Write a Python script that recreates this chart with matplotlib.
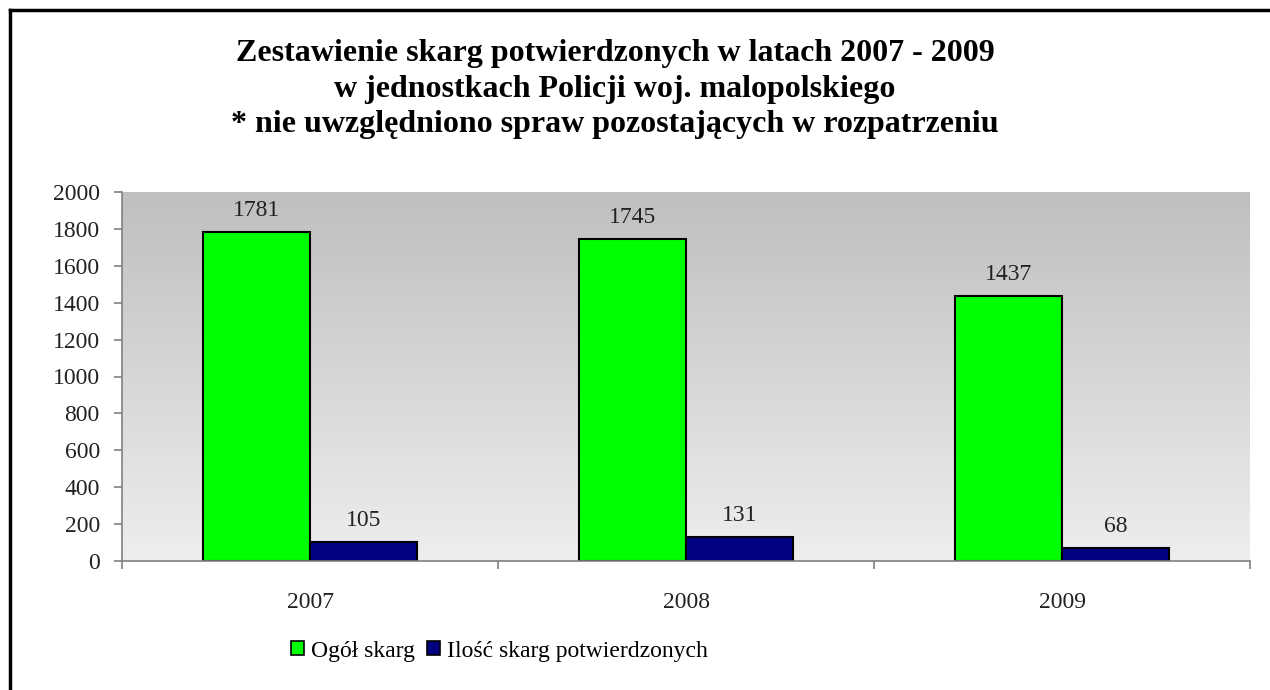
import matplotlib
matplotlib.use("Agg")
import matplotlib.pyplot as plt
import numpy as np
from matplotlib.lines import Line2D
from matplotlib.patches import Patch
from matplotlib.colors import LinearSegmentedColormap

years = ["2007", "2008", "2009"]
ogol = [1781, 1745, 1437]
potw = [105, 131, 68]
series_names = ["Ogół skarg", "Ilość skarg potwierdzonych"]
title = ("Zestawienie skarg potwierdzonych w latach 2007 - 2009\n"
         "w jednostkach Policji woj. malopolskiego\n"
         "* nie uwzględniono spraw pozostających w rozpatrzeniu")

plt.rcParams['font.family'] = ['Liberation Serif', 'DejaVu Serif']

W, H = 1270, 690
fig = plt.figure(figsize=(W/100, H/100), dpi=100)
fig.patch.set_facecolor('white')

ax = fig.add_axes([122/W, 1-561/H, (1250-122)/W, (561-192)/H])
ax.set_xlim(-0.5, 2.5)
ax.set_ylim(0, 2000)

# gradient background
grad = np.linspace(0, 1, 256).reshape(-1, 1)
cmap = LinearSegmentedColormap.from_list('g', ['#eeeeee', '#bfbfbf'])
ax.imshow(grad, extent=[-0.5, 2.5, 0, 2000], origin='lower', aspect='auto',
          cmap=cmap, zorder=0)

x = np.arange(len(years))
bw = 0.285
b1 = ax.bar(x - bw/2, ogol, bw, color='#00ff00', edgecolor='black', linewidth=1.5, zorder=2,
            label=series_names[0])
b2 = ax.bar(x + bw/2, potw, bw, color='#000080', edgecolor='black', linewidth=1.5, zorder=2,
            label=series_names[1])
ax.bar_label(b1, padding=8, fontsize=17, color='#222222')
ax.bar_label(b2, padding=8, fontsize=17, color='#222222')

for s in ['top', 'right']:
    ax.spines[s].set_visible(False)
for s in ['left', 'bottom']:
    ax.spines[s].set_color('#808080')
    ax.spines[s].set_linewidth(1.2)
    ax.spines[s].set_zorder(3)

ax.set_yticks(np.arange(0, 2001, 200))
ax.tick_params(axis='y', direction='out', length=6, width=1.2, color='#808080',
               labelsize=17, pad=10, labelcolor='#222222')
ax.set_xticks([-0.5, 0.5, 1.5, 2.5])
ax.set_xticklabels([])
ax.tick_params(axis='x', which='major', direction='out', length=6, width=1.2, color='#808080')
ax.set_xticks(x, minor=True)
ax.set_xticklabels(years, minor=True)
ax.tick_params(axis='x', which='minor', length=0, labelsize=17, pad=22, labelcolor='#222222')

fig.text(615/W, 1-89/H, title, ha='center', va='center', fontsize=23,
         fontweight='bold', linespacing=1.28)

handles = [Patch(facecolor='#00ff00', edgecolor='black', linewidth=1.2),
           Patch(facecolor='#000080', edgecolor='black', linewidth=1.2)]
fig.legend(handles, series_names, loc='center left', bbox_to_anchor=(291/W, 1-651/H),
           ncol=2, frameon=False, fontsize=17, handlelength=0.55, handleheight=0.55,
           handletextpad=0.3, columnspacing=0.5, borderpad=0, borderaxespad=0)

# outer frame (top and left)
fig.add_artist(Line2D([10/W, 10/W], [0, 1-10/H], transform=fig.transFigure,
                      color='black', linewidth=2.5))
fig.add_artist(Line2D([10/W, 1], [1-10/H, 1-10/H], transform=fig.transFigure,
                      color='black', linewidth=2.5))

fig.savefig('out.png', dpi=100)
